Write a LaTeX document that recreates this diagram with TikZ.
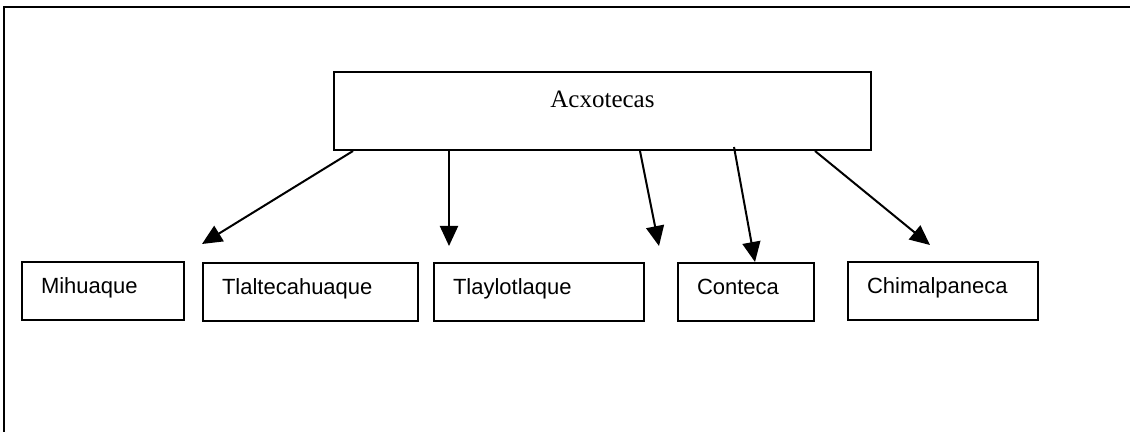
\documentclass[tikz,border=0pt]{standalone}
\usepackage{fontspec}
\setmainfont{Liberation Serif}
\newfontfamily\arialfont{Liberation Sans}
\usetikzlibrary{arrows.meta}

\begin{document}
\begin{tikzpicture}[x=0.5pt,y=-0.5pt,line width=1pt,topbox/.style={draw, anchor=north west, inner sep=0pt, minimum width=268.5pt, text height=18pt, text depth=21pt, font=\fontsize{12.5}{15}\selectfont},tribe/.style={draw, anchor=north west, inner xsep=9.5pt, inner ysep=0pt, text height=16pt, text depth=13pt, align=left, font=\arialfont\fontsize{11}{13}\selectfont},arrow/.style={-{Triangle[length=10pt, width=9pt]}}]
\useasboundingbox (0,0) rectangle (1130,432);
\draw (4,432) -- (4,7.5) -- (1130,7.5);
\node[topbox] (acx) at (333,71) {Acxotecas};
\node[tribe, text width=62pt] (mih) at (21,261) {Mihuaque};
\node[tribe, text width=88.5pt] (tla) at (202,262) {Tlaltecahuaque};
\node[tribe, text width=86pt] (tlay) at (433,262) {Tlaylotlaque};
\node[tribe, text width=49pt] (con) at (677,262) {Conteca};
\node[tribe, text width=76pt] (chi) at (847,261) {Chimalpaneca};
\coordinate (tip1) at (202,244);\coordinate (tip2) at (449,246);\coordinate (tip3) at (659,246);\coordinate (tip5) at (930,245);
\draw[arrow] ([xshift=10pt]acx.south west) -- (tip1);\draw[arrow] ([xshift=58pt]acx.south west) -- (tip2);
\draw[arrow] ([xshift=153.5pt]acx.south west) -- (tip3);\draw[arrow] ([xshift=200.5pt,yshift=2pt]acx.south west) -- ([xshift=4.5pt]con.north);
\draw[arrow] ([xshift=241pt]acx.south west) -- (tip5);
\end{tikzpicture}
\end{document}
